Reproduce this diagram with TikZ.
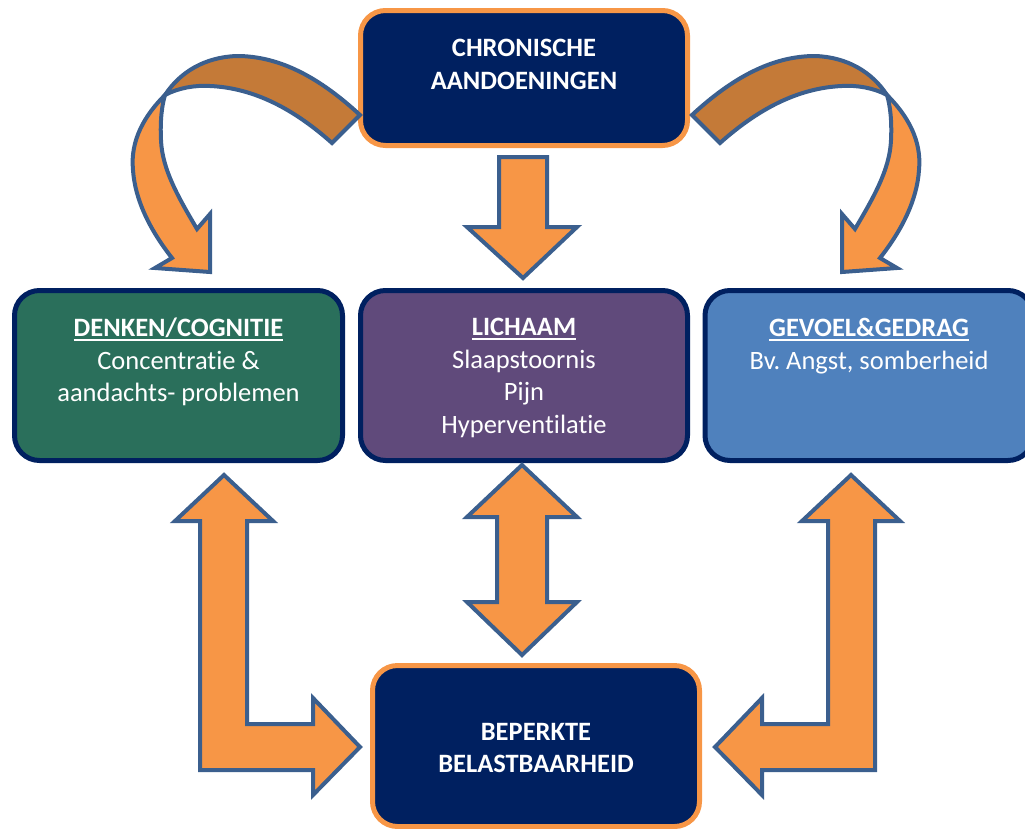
\documentclass[tikz,border=0pt]{standalone}
\usepackage{fontspec}
\setmainfont[Ligatures={NoCommon,NoContextual}]{Carlito}
\usetikzlibrary{positioning}
\frenchspacing

\definecolor{navy}{HTML}{002060}
\definecolor{pijloranje}{HTML}{F79646}
\definecolor{donkeroranje}{HTML}{C47A38}
\definecolor{pijlrand}{HTML}{3B5F8E}
\definecolor{groen}{HTML}{2A6F5B}
\definecolor{paars}{HTML}{604A7B}
\definecolor{blauw}{HTML}{4F81BD}

\newcommand{\kop}[1]{\setbox0=\hbox{#1}\rlap{\rule[-4pt]{\wd0}{2pt}}\box0}

% gebogen pijl links, rechts gespiegeld
\newcommand{\bochtpijl}{%
  \path[blokpijl, fill=donkeroranje] (360,115) .. controls (320,78) and (280,56) .. (237,56)
    .. controls (205,57) and (180,72) .. (165,95)
    .. controls (178,88) and (195,85) .. (210,86)
    .. controls (255,88) and (295,110) .. (332,143) -- cycle;
  \path[blokpijl] (165,95) .. controls (145,115) and (130,140) .. (133,170)
    .. controls (135,200) and (150,230) .. (172,258) -- (155,268) -- (210,272) -- (210,214) -- (197,229)
    .. controls (180,200) and (162,170) .. (161,140)
    .. controls (160,120) and (162,105) .. (165,95) -- cycle;
}

\begin{document}
\begin{tikzpicture}[x=1pt, y=-1pt,
    kader/.style={draw, line width=5pt, rounded corners=25pt, minimum width=327pt, inner sep=0pt},
    donkerkader/.style={kader, fill=navy, draw=pijloranje, minimum height=135pt},
    middenkader/.style={kader, draw=navy, minimum height=170pt},
    tekst/.style={text=white, align=center, inner sep=0pt, font=\fontsize{26.5}{32.5}\selectfont},
    vet/.style={tekst, font=\fontsize{26.5}{32.5}\selectfont\bfseries},
    blokpijl/.style={fill=pijloranje, draw=pijlrand, line width=4pt, line join=miter}]
  \useasboundingbox (0,0) rectangle (1025,828);
  \clip (0,0) rectangle (1025,828);

  \node[donkerkader] (chronisch) at (524,78) {};
  \node[vet, anchor=north, below=31pt of chronisch.north] (chronischtxt) {CHRONISCHE\\AANDOENINGEN};

  \node[middenkader, fill=groen, minimum width=328pt] (denken) at (178.5,375.5) {};
  \node[middenkader, fill=paars] (lichaam) at (524,375.5) {};
  \node[middenkader, fill=blauw, minimum width=328pt] (gevoel) at (869,375.5) {};

  \node[tekst, below=30pt of denken.north] (denkentxt)
    {\textbf{\kop{DENKEN/COGNITIE}}\\Concentratie \&\\aandachts- problemen};
  \node[tekst, below=30pt of lichaam.north] (lichaamtxt)
    {\textbf{\kop{LICHAAM}}\\Slaapstoornis\\Pijn\\Hyperventilatie};
  \node[tekst, below=30pt of gevoel.north] (gevoeltxt)
    {\textbf{\kop{GEVOEL\&GEDRAG}}\\Bv. Angst, somberheid};

  \node[donkerkader, minimum height=161pt] (beperkt) at (536,746) {};
  \node[vet, below=60pt of beperkt.north] (beperkttxt) {BEPERKTE\\BELASTBAARHEID};

  % pijlen
  \path[blokpijl] (499,157) -- (547,157) -- (547,227) -- (577,227) -- (523,278)
    -- (467,227) -- (499,227) -- cycle;
  \path[blokpijl] (522,465) -- (577,517) -- (547,517) -- (547,602) -- (577,602)
    -- (522,655) -- (467,602) -- (497,602) -- (497,517) -- (467,517) -- cycle;

  \path[blokpijl] (224,475) -- (273,521) -- (247,521) -- (247,724) -- (313,724) -- (313,698)
    -- (360,747) -- (313,795) -- (313,770) -- (200,770) -- (200,521) -- (175,521) -- cycle;
  \path[blokpijl] (851,475) -- (900,521) -- (875,521) -- (875,770) -- (762,770) -- (762,795)
    -- (715,747) -- (762,698) -- (762,724) -- (828,724) -- (828,521) -- (802,521) -- cycle;

  \bochtpijl
  \begin{scope}[shift={(1052,0)}, xscale=-1]
    \bochtpijl
  \end{scope}
\end{tikzpicture}
\end{document}
